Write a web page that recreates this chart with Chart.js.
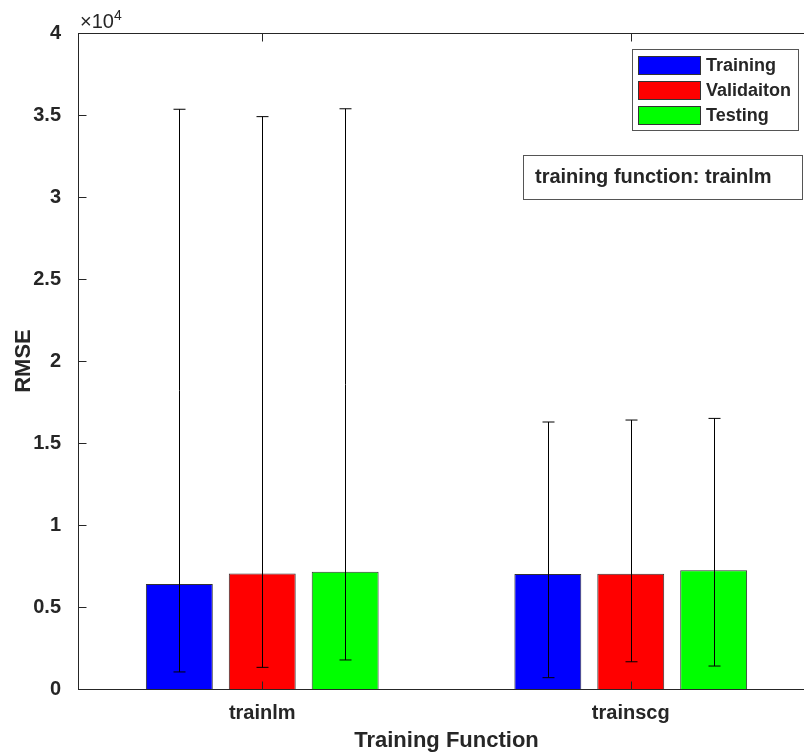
<!DOCTYPE html>
<html>
<head>
<meta charset="utf-8">
<script src="https://cdn.jsdelivr.net/npm/chart.js@4"></script>
<style>
  html, body { margin: 0; padding: 0; background: #fff; overflow: hidden; }
  #wrap { width: 820px; height: 755px; }
</style>
</head>
<body>
<div id="wrap"><canvas id="c" width="820" height="755"></canvas></div>
<script>
// values (RMSE)
const categories = ['trainlm', 'trainscg']
const seriesNames = ['Training', 'Validaiton', 'Testing']
const training = [6400, 7010]
const validation = [7050, 7030]
const testing = [7150, 7240]
// error bar ends (lower / upper)
const trainingLow = [1040, 690]
const trainingHigh = [35350, 16280]
const validationLow = [1320, 1660]
const validationHigh = [34900, 16400]
const testingLow = [1770, 1400]
const testingHigh = [35380, 16500]
const yTicks = [0, 5000, 10000, 15000, 20000, 25000, 30000, 35000, 40000]
const noteText = 'training function: trainlm'

const ink = '#262626'
const font = 'Liberation Sans, Arial, sans-serif'

const lows = [trainingLow, validationLow, testingLow]
const highs = [trainingHigh, validationHigh, testingHigh]

// error bars, axis box with inward ticks, legend, note, exponent
const extras = {
  id: 'extras',
  afterDatasetsDraw(chart) {
    const ctx = chart.ctx
    const y = chart.scales.y
    ctx.save()
    ctx.strokeStyle = '#000'
    ctx.lineWidth = 1
    chart.data.datasets.forEach((ds, i) => {
      chart.getDatasetMeta(i).data.forEach((bar, j) => {
        const x = Math.round(bar.x) + 0.5
        const lo = y.getPixelForValue(lows[i][j])
        const hi = y.getPixelForValue(highs[i][j])
        ctx.beginPath()
        ctx.moveTo(x, lo); ctx.lineTo(x, hi)
        ctx.moveTo(x - 6, lo); ctx.lineTo(x + 6, lo)
        ctx.moveTo(x - 6, hi); ctx.lineTo(x + 6, hi)
        ctx.stroke()
      })
    })
    ctx.restore()
  },
  afterDraw(chart) {
    const ctx = chart.ctx
    const a = chart.chartArea
    const xs = chart.scales.x
    const ys = chart.scales.y
    ctx.save()
    ctx.strokeStyle = ink
    ctx.lineWidth = 1
    const L = Math.round(a.left) + 0.5, R = Math.round(a.right) - 0.5
    const T = Math.round(a.top) + 0.5, B = Math.round(a.bottom) + 0.5
    ctx.strokeRect(L, T, R - L, B - T)
    ctx.beginPath()
    yTicks.forEach(v => {
      const py = Math.round(ys.getPixelForValue(v)) + 0.5
      ctx.moveTo(L, py); ctx.lineTo(L + 8, py)
      ctx.moveTo(R, py); ctx.lineTo(R - 8, py)
    })
    categories.forEach((c, i) => {
      const px = Math.round(xs.getPixelForValue(i)) + 0.5
      ctx.moveTo(px, B); ctx.lineTo(px, B - 8)
      ctx.moveTo(px, T); ctx.lineTo(px, T + 8)
    })
    ctx.stroke()

    // exponent
    ctx.fillStyle = ink
    ctx.textBaseline = 'alphabetic'
    ctx.textAlign = 'left'
    ctx.font = '20px ' + font
    ctx.fillText('\u00d710', 80, 28)
    ctx.font = '14px ' + font
    ctx.fillText('4', 114, 20)

    // legend
    ctx.fillStyle = '#fff'
    ctx.fillRect(632, 49, 166, 81)
    ctx.strokeStyle = '#555'
    ctx.strokeRect(632.5, 49.5, 166, 81)
    ctx.font = 'bold 18px ' + font
    ctx.textBaseline = 'middle'
    chart.data.datasets.forEach((ds, i) => {
      const cy = 65 + i * 25
      ctx.fillStyle = ds.backgroundColor
      ctx.fillRect(638, cy - 9, 62, 18)
      ctx.strokeStyle = '#333'
      ctx.strokeRect(638.5, cy - 9 + 0.5, 62, 18)
      ctx.fillStyle = ink
      ctx.fillText(ds.label, 706, cy + 1)
    })

    // note box
    ctx.fillStyle = '#fff'
    ctx.fillRect(523, 155, 279, 44)
    ctx.strokeStyle = '#555'
    ctx.strokeRect(523.5, 155.5, 279, 44)
    ctx.fillStyle = ink
    ctx.font = 'bold 20px ' + font
    ctx.fillText(noteText, 535, 177)
    ctx.restore()
  }
}

const mk = (label, data, color) => ({
  label, data,
  backgroundColor: color,
  borderColor: '#333',
  borderWidth: 1,
  categoryPercentage: 0.675,
  barPercentage: 0.807
})

new Chart(document.getElementById('c'), {
  type: 'bar',
  data: {
    labels: categories,
    datasets: [
      mk(seriesNames[0], training, '#0000ff'),
      mk(seriesNames[1], validation, '#ff0000'),
      mk(seriesNames[2], testing, '#00ff00')
    ]
  },
  options: {
    responsive: false,
    animation: false,
    devicePixelRatio: 1,
    layout: { padding: { top: 33, right: 5, left: 0, bottom: 0 } },
    plugins: { legend: { display: false }, tooltip: { enabled: false } },
    scales: {
      x: {
        grid: { display: false },
        border: { display: false },
        ticks: { color: ink, font: { family: font, size: 20, weight: 'bold' }, padding: 4 },
        title: { display: true, text: 'Training Function', color: ink,
          font: { family: font, size: 22, weight: 'bold' }, padding: { top: 0, bottom: 1 } },
        afterFit: s => { s.height = 66 }
      },
      y: {
        min: 0, max: 40000,
        grid: { display: false },
        border: { display: false },
        afterBuildTicks: s => { s.ticks = yTicks.map(v => ({ value: v })) },
        ticks: { color: ink, font: { family: font, size: 20, weight: 'bold' }, padding: 9,
          callback: v => String(v / 10000) },
        title: { display: true, text: 'RMSE', color: ink,
          font: { family: font, size: 22, weight: 'bold' }, padding: { top: 11, bottom: 0 } },
        afterFit: s => { s.width = 78 }
      }
    }
  },
  plugins: [extras]
})
</script>
</body>
</html>
